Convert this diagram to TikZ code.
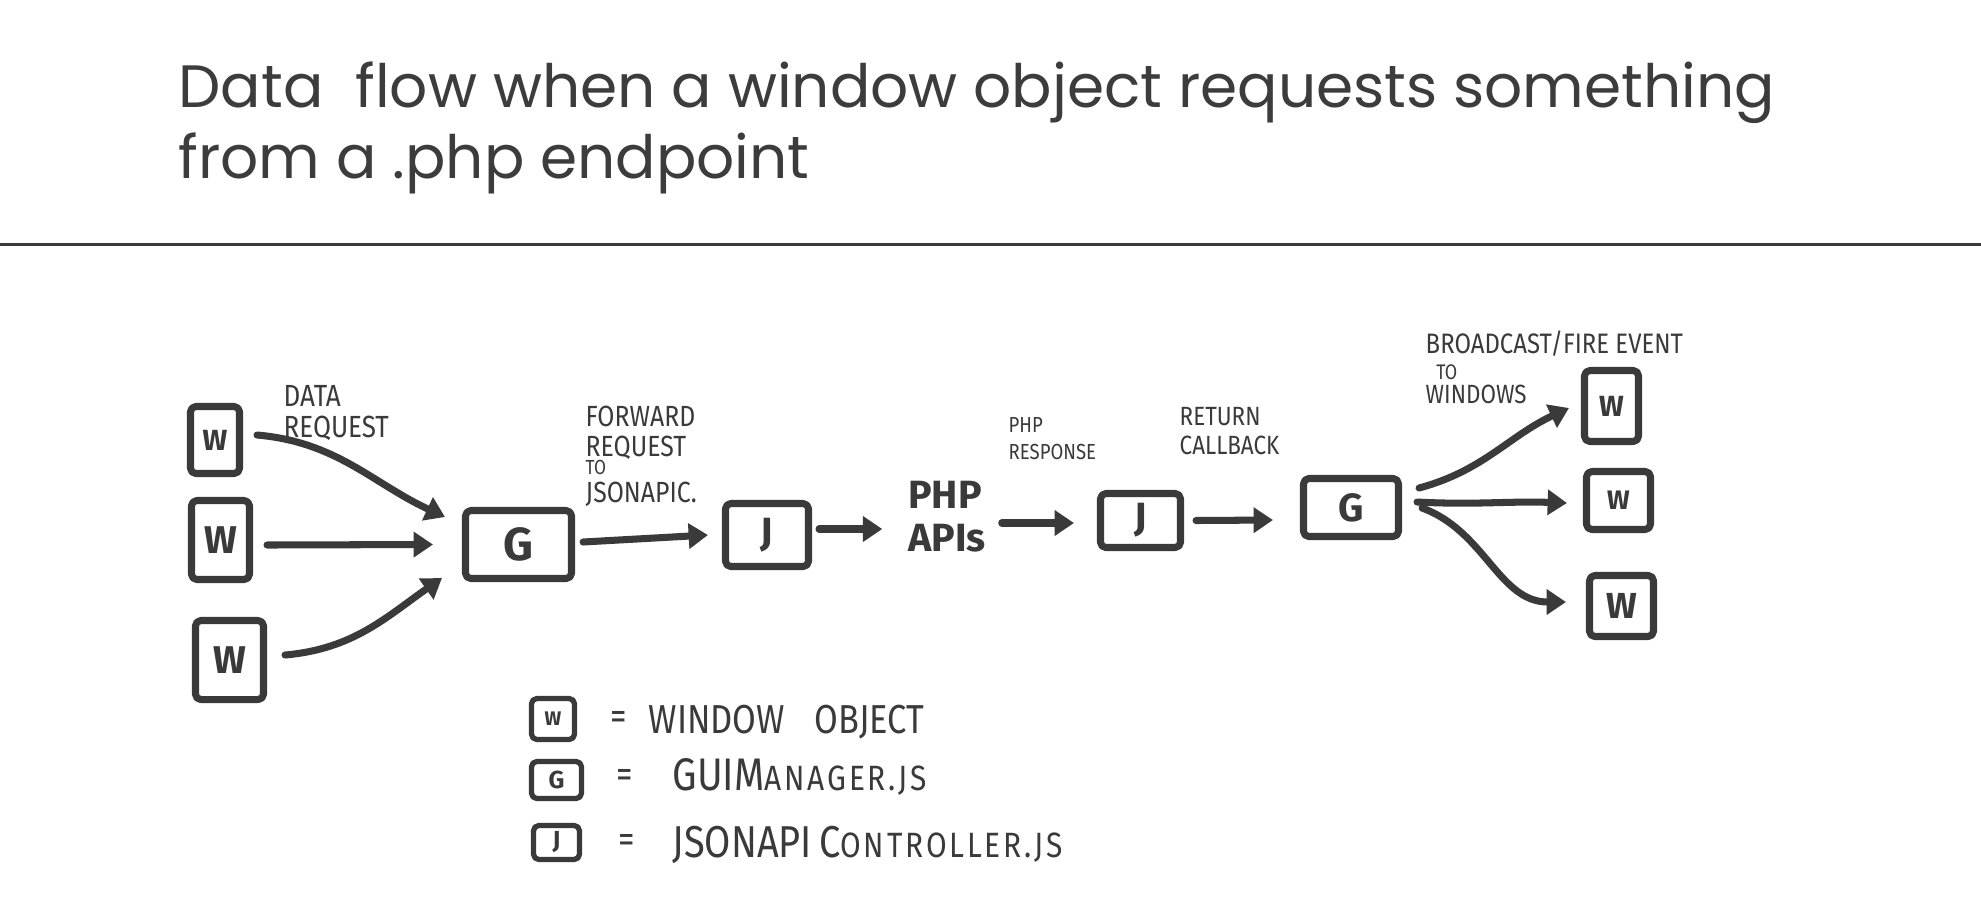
\documentclass[tikz,border=0pt]{standalone}
\usepackage{fontspec}
\usetikzlibrary{arrows.meta,calc}
\newfontfamily\titlefont{Poppins}
\newfontfamily\hand[FakeStretch=0.85]{Fira Sans}
\newfontfamily\handsp[FakeStretch=0.85,LetterSpace=8]{Fira Sans}
\newfontfamily\boxfont{Fira Sans}
\definecolor{ink}{HTML}{3A3A3A}
\definecolor{titleink}{HTML}{3C3C3C}
\newcommand{\fs}[2]{\fontsize{#1}{#2}\selectfont}
\tikzset{
  sk/.style={draw=ink, line width=2pt, line join=round, rounded corners=1.5pt, inner sep=0pt, text=ink},
  bx/.style n args={2}{minimum width={#1*0.01cm}, minimum height={#2*0.01cm}},
  lbl/.style={text=ink, inner sep=0pt, align=left, anchor=north west},
  leg/.style={text=ink, inner sep=0pt, anchor=base west},
  arr/.style={draw=ink, line width=2pt, line cap=round, -{Triangle[length=5.5pt,width=7pt]}},
  ttl/.style={text=titleink, inner sep=0pt, anchor=base west, font=\titlefont\fs{17}{20}}
}
\begin{document}
\begin{tikzpicture}[x=0.01cm,y=-0.01cm]
\useasboundingbox (0,0) rectangle (1981,905);
\fill[white] (0,0) rectangle (1981,905);

% title
\node[ttl] (t1) at (178,107) {Data\ \ flow when a window object requests something};
\node[ttl] (t2) at (178,178) {from a .php endpoint};
\draw[ink, line width=0.85pt] (0,244.5) -- (1981,244.5);

% left windows
\node[sk, bx={49}{67}, font=\boxfont\bfseries\fs{8.3}{9}] (w1) at (215,440) {W};
\node[sk, bx={58}{79}, font=\boxfont\bfseries\fs{11}{12}] (w2) at (220.5,540) {W};
\node[sk, bx={68}{79}, font=\boxfont\bfseries\fs{11}{12}] (w3) at (229.5,660) {W};

% chain
\node[sk, bx={106}{68}, font=\boxfont\bfseries\fs{13.2}{14}] (g1) at (518.5,544.5) {G};
\node[sk, bx={83}{63}, font=\boxfont\bfseries\fs{11.2}{12}] (j1) at (767,535) {J};
\node[text=ink, inner sep=0pt, align=left, minimum width=0.8cm, minimum height=0.75cm,
      font=\boxfont\bfseries\fs{11.2}{12.2}] (php) at (947,517) {PHP\\APIs};
\node[sk, bx={80}{54}, font=\boxfont\bfseries\fs{11.2}{12}] (j2) at (1140.5,520.5) {J};
\node[sk, bx={95}{58}, font=\boxfont\bfseries\fs{11.2}{12}] (g2) at (1351,507.5) {G};

% right windows
\node[sk, bx={54}{71}, font=\boxfont\bfseries\fs{8.3}{9}] (w4) at (1611.5,406) {W};
\node[sk, bx={64}{58}, font=\boxfont\bfseries\fs{7.6}{8}] (w5) at (1618.5,500.5) {W};
\node[sk, bx={64}{61}, font=\boxfont\bfseries\fs{10.3}{11}] (w6) at (1621.5,606) {W};

% labels
\node[lbl, font=\hand\fs{8.7}{8.8}] (l1) at (283,385) {DATA\\REQUEST};
\node[lbl, font=\hand\fs{8.3}{8.5}] (l2) at (585,405) {FORWARD\\REQUEST\\[-3.4pt]{\fs{5.8}{8.5}TO}\\[-0.3pt]JSONAPIC.};
\node[lbl, font=\hand\fs{6.2}{7.7}] (l3) at (1008,417) {PHP\\RESPONSE};
\node[lbl, font=\hand\fs{7.5}{8}] (l4) at (1179,407) {RETURN\\CALLBACK};
\node[lbl, font=\hand\fs{8}{7.4}] (l5) at (1425,330) {BROADCAST/FIRE EVENT\\\hspace*{3pt}{\fs{6}{7.4}TO}\\[-0.6pt]{\fs{7.5}{7.4}WINDOWS}};

% arrows
\draw[arr] ($(w1.east)+(14,-5)$) to[out=-5,in=155] ($(g1.west)+(-17,-27.5)$);
\draw[arr] ($(w2.east)+(14,5)$) -- ($(g1.west)+(-29,0)$);
\draw[arr] ($(w3.east)+(18,-5)$) to[out=5,in=215] ($(g1.west)+(-20,33.5)$);
\draw[arr] ($(g1.east)+(8,-2.5)$) -- ($(j1.west)+(-14,0)$);
\draw[arr] ($(j1.east)+(7,-6)$) -- ($(php.west)+(-24,12)$);
\draw[arr] ($(php.east)+(14,6)$) -- ($(j2.west)+(-23,2.5)$);
\draw[arr] ($(j2.east)+(12,0)$) -- ($(g2.west)+(-27,12.5)$);
\draw[arr] ($(g2.east)+(17,-19.5)$) to[out=15,in=205] ($(w4.west)+(-12,2)$);
\draw[arr] ($(g2.east)+(15,-5.5)$) to[out=-3,in=178] ($(w5.west)+(-16,2.5)$);
\draw[arr] ($(g2.east)+(20,0.5)$) to[out=-20,in=180] ($(w6.west)+(-20,-4)$);

% legend
\node[sk, line width=1.5pt, bx={43}{41}, font=\boxfont\bfseries\fs{5.6}{6}] (lw) at (553,719) {W};
\node[sk, line width=1.5pt, bx={50}{37}, font=\boxfont\bfseries\fs{7}{7}] (lg) at (556.5,780) {G};
\node[sk, line width=1.5pt, bx={46}{34}, font=\boxfont\bfseries\fs{7}{7}] (lj) at (556.5,842.5) {J};
\node[text=ink, inner sep=0pt, font=\hand\fs{11}{11}] (e1) at (619,720) {=};
\node[text=ink, inner sep=0pt, font=\hand\fs{11}{11}] (e2) at (625,778) {=};
\node[text=ink, inner sep=0pt, font=\hand\fs{11}{11}] (e3) at (627,843) {=};
\node[leg, font=\hand\fs{11.5}{12}] (d1) at (648,733) {WINDOW\hspace{8.5pt}OBJECT};
\node[leg, font=\hand\fs{13}{13}] (d2) at (672,790) {GUIM{\handsp\fs{10}{10}ANAGER.JS}};
\node[leg, font=\hand\fs{12.7}{13}] (d3) at (672,857) {JSONAPI\hspace{2pt}C{\handsp\fs{10}{10}ONTROLLER.JS}};
\end{tikzpicture}
\end{document}
